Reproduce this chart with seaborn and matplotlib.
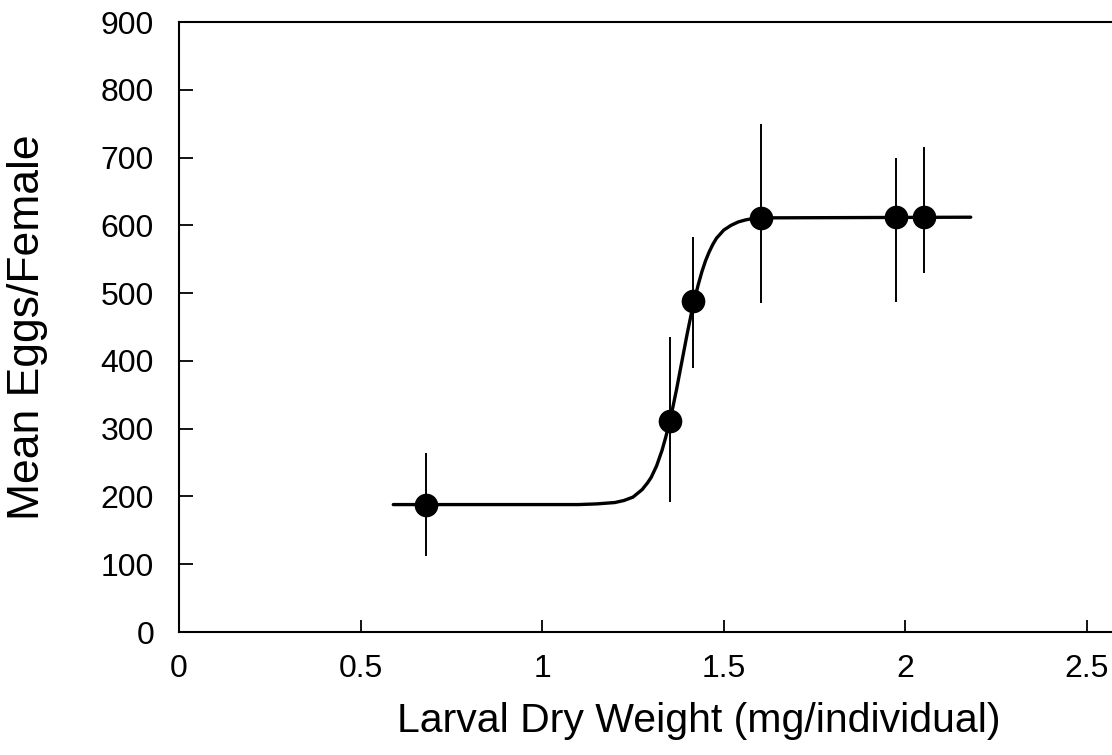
import numpy as np
import pandas as pd
import matplotlib
matplotlib.use("Agg")
import matplotlib.pyplot as plt
import seaborn as sns

# Mean eggs per female vs larval dry weight
weight = [0.68, 1.353, 1.416, 1.603, 1.975, 2.052]
eggs = [187, 311, 488, 611, 612, 612]
err_low = [112, 192, 389, 485, 487, 530]
err_high = [264, 435, 583, 750, 699, 716]

# fitted curve, points
curve_x = [0.59, 1.10, 1.15, 1.20, 1.225, 1.25, 1.275, 1.29, 1.30, 1.315,
           1.33, 1.34, 1.35, 1.36, 1.37, 1.38, 1.39, 1.40, 1.41, 1.42,
           1.43, 1.44, 1.45, 1.46, 1.47, 1.48, 1.49, 1.50, 1.52, 1.54,
           1.56, 1.58, 1.60, 2.18]
curve_y = [188, 188, 189, 191, 194, 199, 210, 220, 228, 245,
           268, 287, 308, 332, 358, 386, 414, 442, 468, 492,
           513, 532, 548, 561, 572, 581, 587, 593, 600, 605,
           608, 610, 611, 612]

df = pd.DataFrame({"weight": weight, "eggs": eggs})
curve = pd.DataFrame({"x": curve_x, "y": curve_y})

sns.set_style("ticks")
plt.rcParams['font.family'] = ['Liberation Sans', 'DejaVu Sans']

fig = plt.figure(figsize=(11.12, 7.55), dpi=100)
ax = fig.add_axes([179 / 1112, 123 / 755, (1112 - 179) / 1112, 610 / 755])

sns.lineplot(data=curve, x="x", y="y", color="black", linewidth=2.4,
             ax=ax, sort=False)
ax.vlines(df["weight"], err_low, err_high, color="black", linewidth=1.4)
sns.scatterplot(data=df, x="weight", y="eggs", color="black", s=290,
                edgecolor="black", linewidth=0, ax=ax, zorder=5)

ax.set_xlim(0, 2.569)
ax.set_ylim(0, 900)
ax.set_xticks([0, 0.5, 1, 1.5, 2, 2.5])
ax.set_xticklabels(["0", "0.5", "1", "1.5", "2", "2.5"])
ax.set_yticks(range(0, 1000, 100))

ax.spines['right'].set_visible(False)
for s in ['left', 'bottom', 'top']:
    ax.spines[s].set_linewidth(1.5)
    ax.spines[s].set_color("black")

ax.tick_params(axis='x', direction='in', length=9, width=1.3, pad=16,
               labelsize=23, colors='black')
ax.tick_params(axis='y', direction='in', length=10, width=1.3, pad=18,
               labelsize=23, colors='black')

ax.set_xlabel("Larval Dry Weight (mg/individual)", fontsize=29.5,
              color="black")
ax.xaxis.set_label_coords(0.557, -0.115)
ax.set_ylabel("Mean Eggs/Female", fontsize=32, labelpad=38, color="black")

fig.savefig("out.png", dpi=100)
